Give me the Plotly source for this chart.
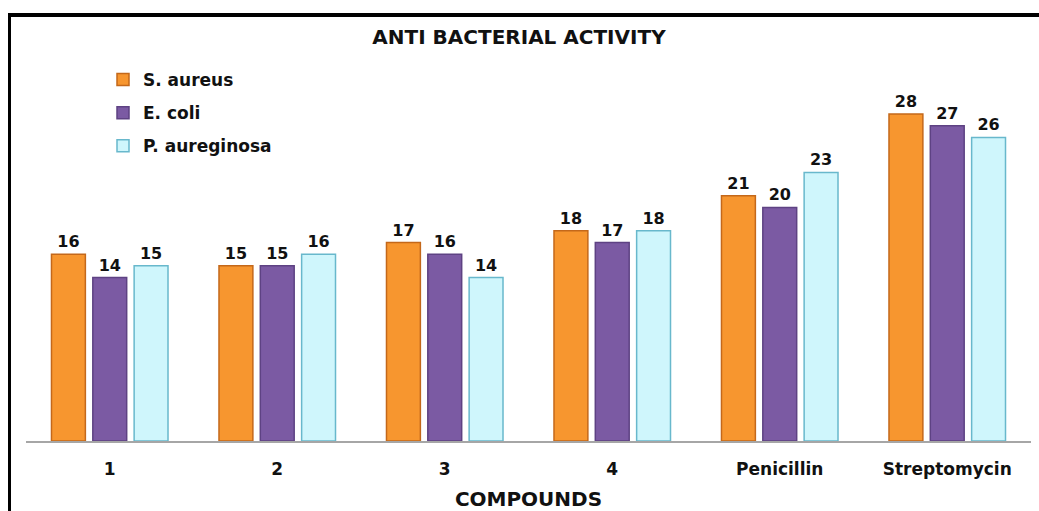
import plotly.graph_objects as go

categories = ["1", "2", "3", "4", "Penicillin", "Streptomycin"]
s_aureus = [16, 15, 17, 18, 21, 28]
e_coli = [14, 15, 16, 17, 20, 27]
p_aureginosa = [15, 16, 14, 18, 23, 26]

series = [
    ("S. aureus", s_aureus, "#F7962F", "#C4681A"),
    ("E. coli", e_coli, "#7B5AA3", "#5E4283"),
    ("P. aureginosa", p_aureginosa, "#CFF6FC", "#68B8CC"),
]

FONT = "DejaVu Sans"

fig = go.Figure()
for name, vals, col, line in series:
    fig.add_trace(go.Bar(
        x=categories, y=vals, name="<b>" + name + "</b>",
        marker=dict(color=col, line=dict(color=line, width=1.5)),
        text=["<b>" + str(v) + "</b>" for v in vals], textposition="outside",
        textfont=dict(family=FONT, size=16, color="#111111"),
        cliponaxis=False, legendgroup=name,
    ))

W, H = 1039, 511
L, R, T, B = 26, 8, 44, 70
pw, ph = W - L - R, H - T - B

def px(x):
    return (x - L) / pw

def py(y):
    return (H - B - y) / ph

fig.update_layout(
    width=W, height=H,
    margin=dict(l=L, r=R, t=T, b=B, autoexpand=False),
    paper_bgcolor="white", plot_bgcolor="white",
    barmode="group", bargap=0.26, bargroupgap=0.18,
    title=dict(text="<b>ANTI BACTERIAL ACTIVITY</b>", x=px(528), xanchor="center",
               y=1 - 37 / H, yanchor="middle",
               font=dict(family=FONT, size=20, color="#111111")),
    legend=dict(x=px(103), y=py(62), xanchor="left", yanchor="top",
                font=dict(family=FONT, size=17, color="#111111"),
                traceorder="grouped", tracegroupgap=8,
                bgcolor="rgba(0,0,0,0)", itemwidth=30),
    showlegend=True,
    xaxis=dict(showline=True, linecolor="#A6A6A6", linewidth=1.5,
               automargin=False,
               ticks="", tickvals=categories,
               ticktext=["<b>" + c + "</b>" for c in categories],
               ticklabelstandoff=12,
               tickfont=dict(family=FONT, size=17, color="#111111"),
               title=dict(text="<b>COMPOUNDS</b>", standoff=15,
                          font=dict(family=FONT, size=20, color="#111111"))),
    yaxis=dict(range=[0, 34], visible=False, showgrid=False, zeroline=False,
               automargin=False),
    shapes=[
        dict(type="line", xref="paper", yref="paper", x0=px(8), x1=px(1039),
             y0=py(15), y1=py(15), line=dict(color="black", width=4)),
        dict(type="line", xref="paper", yref="paper", x0=px(9.5), x1=px(9.5),
             y0=py(13), y1=py(511), line=dict(color="black", width=3)),
    ],
)

fig.write_html("out.html", config={"displayModeBar": False},
               post_script="document.body.style.margin='0';")
